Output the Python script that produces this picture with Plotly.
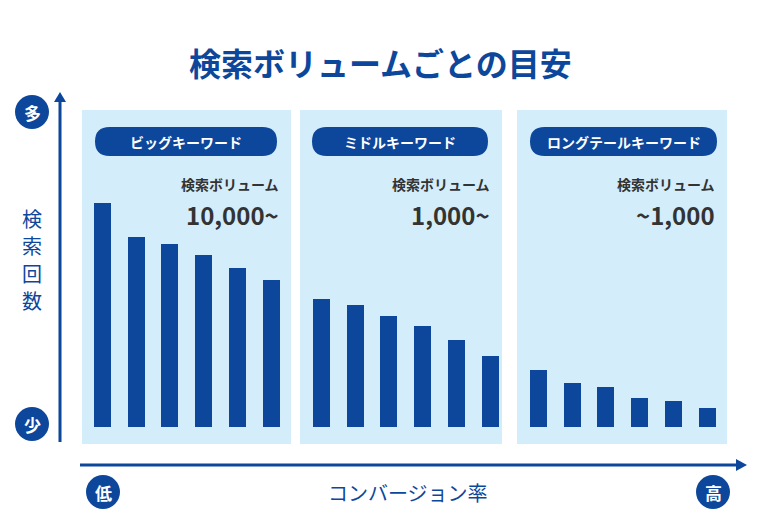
import plotly.graph_objects as go

# data (bar heights in chart units)
groups = ["ビッグキーワード", "ミドルキーワード", "ロングテールキーワード"]
volume_labels = ["10,000~", "1,000~", "~1,000"]
big_values = [224, 190, 183, 172, 159, 147]
middle_values = [128, 122, 111, 101, 87, 71]
long_values = [57, 44, 40, 29, 26, 19]

BLUE = "#0d479c"
PANEL = "#d3eefa"
W, H = 760, 520
OFF = 8  # page margin offset of the rendered figure
base = H - 427

def Y(py):
    return H - py

panels = [(82, 291), (300, 502), (517, 727)]
first_centers = [102.5, 321.5, 538.5]
spacing = 33.7
pills = [(95, 277), (312, 488), (530, 717)]

fig = go.Figure()
shapes = []
annotations = []

for (x0, x1) in panels:
    shapes.append(dict(type="rect", x0=x0, x1=x1, y0=Y(444), y1=Y(110),
                       fillcolor=PANEL, line_width=0, layer="below"))

for k, vals in enumerate([big_values, middle_values, long_values]):
    xs = [first_centers[k] + i * spacing for i in range(len(vals))]
    fig.add_trace(go.Bar(x=xs, y=vals, base=base, width=17, marker_color=BLUE,
                         marker_line_width=0, showlegend=False, hoverinfo="skip"))
    px0, px1 = pills[k]
    yt, yb, r = Y(127), Y(156), 14.5
    path = (f"M {px0+r},{yb} L {px1-r},{yb} Q {px1},{yb} {px1},{(yb+yt)/2} "
            f"Q {px1},{yt} {px1-r},{yt} L {px0+r},{yt} Q {px0},{yt} {px0},{(yb+yt)/2} "
            f"Q {px0},{yb} {px0+r},{yb} Z")
    shapes.append(dict(type="path", path=path, fillcolor=BLUE, line_width=0))
    annotations.append(dict(x=(px0 + px1) / 2, y=Y(141.5), text=f"<b>{groups[k]}</b>",
                            showarrow=False, font=dict(color="white", size=14)))
    right = panels[k][1] - 10
    annotations.append(dict(x=right, y=Y(184), text="<b>検索ボリューム</b>", xanchor="right",
                            showarrow=False, font=dict(color="#333333", size=14)))
    annotations.append(dict(x=right, y=Y(214), text=f"<b>{volume_labels[k]}</b>", xanchor="right",
                            showarrow=False, font=dict(color="#333333", size=24)))

# axes arrows
shapes.append(dict(type="line", x0=60, x1=60, y0=Y(442), y1=Y(100), line=dict(color=BLUE, width=3)))
shapes.append(dict(type="line", x0=80, x1=738, y0=Y(465), y1=Y(465), line=dict(color=BLUE, width=3)))
shapes.append(dict(type="path", path=f"M 54,{Y(102)} L 66,{Y(102)} L 60,{Y(92)} Z", fillcolor=BLUE, line_width=0))
shapes.append(dict(type="path", path=f"M 736,{Y(459)} L 736,{Y(471)} L 747,{Y(465)} Z", fillcolor=BLUE, line_width=0))

for (cx, cy, t) in [(32, 112, "多"), (32, 424, "少"), (103, 492, "低"), (713, 492, "高")]:
    shapes.append(dict(type="circle", x0=cx - 17, x1=cx + 17, y0=Y(cy + 17), y1=Y(cy - 17),
                       fillcolor=BLUE, line_width=0))
    annotations.append(dict(x=cx, y=Y(cy), text=f"<b>{t}</b>", showarrow=False,
                            font=dict(color="white", size=17)))

for i, ch in enumerate("検索回数"):
    annotations.append(dict(x=32, y=Y(218 + i * 27.5), text=ch, showarrow=False,
                            font=dict(color=BLUE, size=20)))
annotations.append(dict(x=408, y=Y(492), text="コンバージョン率", showarrow=False,
                        font=dict(color=BLUE, size=20)))
annotations.append(dict(x=380, y=Y(62), text="<b>検索ボリュームごとの目安</b>", showarrow=False,
                        font=dict(color=BLUE, size=32)))

fig.update_layout(
    width=W, height=H, margin=dict(l=0, r=0, t=0, b=0),
    paper_bgcolor="white", plot_bgcolor="white",
    font=dict(family="Noto Sans CJK JP"),
    xaxis=dict(range=[OFF, W + OFF], visible=False, fixedrange=True),
    yaxis=dict(range=[-OFF, H - OFF], visible=False, fixedrange=True),
    shapes=shapes, annotations=annotations, bargap=0,
)
fig.write_html("out.html")
